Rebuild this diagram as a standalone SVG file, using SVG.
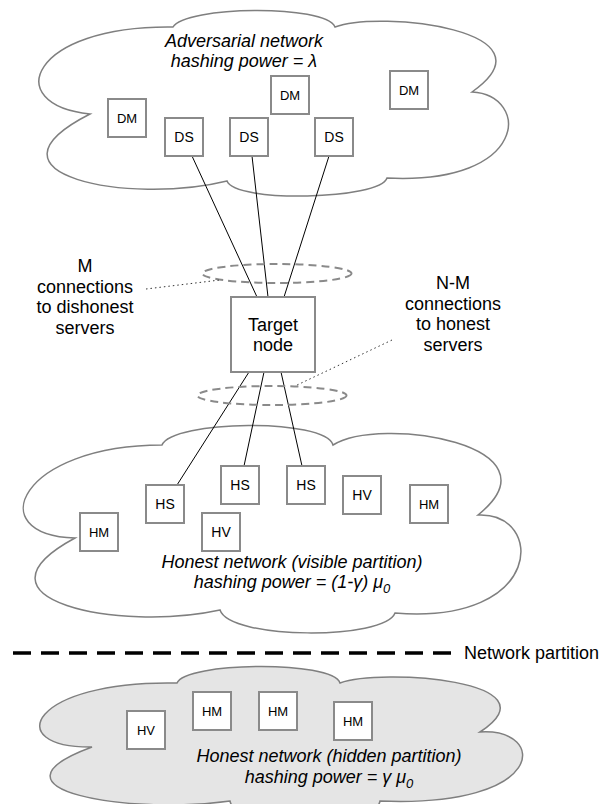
<svg xmlns="http://www.w3.org/2000/svg" width="607" height="804" viewBox="0 0 607 804">
  <style>
    .cloud { fill: #ffffff; stroke: #7f7f7f; stroke-width: 1.5; }
    .cloud.hidden { fill: #e5e5e5; }
    .box { fill: #ffffff; stroke: #8a8a8a; stroke-width: 2; }
    .lbl { font-family: "Liberation Sans", Arial, Helvetica, sans-serif; fill: #000; text-anchor: middle; }
    .s14 { font-size: 14px; }
    .s13 { font-size: 13px; }
    .big { font-family: "Liberation Sans", Arial, Helvetica, sans-serif; font-size: 18px; fill: #000; text-anchor: middle; }
    .it { font-style: italic; }
    .conn { stroke: #000; stroke-width: 1; fill: none; }
    .dot { stroke: #333; stroke-width: 1; stroke-dasharray: 1.5 3; fill: none; }
    .ring { fill: none; stroke: #8a8a8a; stroke-width: 2; stroke-dasharray: 8 5; }
  </style>

  <!-- Clouds -->
  <g id="adversarial-network">
    <path class="cloud" d="M90,114 C0,105 30,25 173,27 C185,6 325,4 335,27 C380,10 560,30 472,92 C530,95 530,185 387,178 C380,200 235,203 227,181 C130,205 -30,175 90,114 Z"/>
    <text class="big it" x="244" y="47">Adversarial network</text>
    <text class="big it" x="244" y="67">hashing power = λ</text>
  </g>

  <g id="honest-visible">
    <path class="cloud" d="M75,538 C-20,535 20,445 162,445 C172,420 325,418 333,445 C380,415 565,445 478,515 C545,512 545,625 395,613 C385,640 230,640 220,610 C120,632 -40,600 75,538 Z"/>
    <text class="big it" x="292" y="568">Honest network (visible partition)</text>
    <text class="big it" x="292" y="588">hashing power = (1-γ) μ<tspan font-size="13" dy="5">0</tspan></text>
  </g>

  <g id="honest-hidden">
    <path class="cloud hidden" d="M92,747 C0,748 30,680 177,683 C185,662 332,660 340,683 C380,668 560,680 480,732 C548,728 548,808 380,801 C375,830 235,830 230,801 C130,815 -25,790 92,747 Z"/>
    <text class="big it" x="329" y="762">Honest network (hidden partition)</text>
    <text class="big it" x="329" y="783">hashing power = γ μ<tspan font-size="13" dy="5">0</tspan></text>
  </g>

  <!-- Partition line -->
  <g id="network-partition">
    <line x1="13" y1="653" x2="451" y2="653" stroke="#000" stroke-width="3.5" stroke-dasharray="18 10"/>
    <text class="big" x="464" y="659" style="text-anchor:start">Network partition</text>
  </g>

  <!-- Connectors -->
  <g id="connectors">
    <line class="conn" x1="192" y1="156" x2="257" y2="297"/>
    <line class="conn" x1="252" y1="156" x2="268" y2="297"/>
    <line class="conn" x1="329" y1="156" x2="284" y2="297"/>
    <line class="conn" x1="249" y1="372" x2="177" y2="485"/>
    <line class="conn" x1="264" y1="372" x2="244" y2="466"/>
    <line class="conn" x1="281" y1="372" x2="302" y2="466"/>
    <ellipse class="ring" cx="277" cy="273.5" rx="74.5" ry="9.5"/>
    <ellipse class="ring" cx="272" cy="395.5" rx="74.5" ry="9.5"/>
    <line class="dot" x1="146" y1="289" x2="220" y2="280"/>
    <line class="dot" x1="392" y1="340" x2="295" y2="386"/>
  </g>

  <!-- Connection labels -->
  <g id="label-m">
    <text class="big" x="85" y="272">M</text>
    <text class="big" x="85" y="292.5">connections</text>
    <text class="big" x="85" y="313">to dishonest</text>
    <text class="big" x="85" y="333.5">servers</text>
  </g>
  <g id="label-nm">
    <text class="big" x="453" y="289">N-M</text>
    <text class="big" x="453" y="309.5">connections</text>
    <text class="big" x="453" y="330">to honest</text>
    <text class="big" x="453" y="350.5">servers</text>
  </g>

  <!-- Target node -->
  <g id="target-node">
    <rect class="box" x="231" y="297" width="84" height="75"/>
    <text class="big" x="273" y="331">Target</text>
    <text class="big" x="273" y="351">node</text>
  </g>

  <!-- Adversarial nodes -->
  <g id="dm1"><rect class="box" x="108" y="99" width="38" height="38"/><text class="lbl s13" x="127" y="122.5">DM</text></g>
  <g id="ds1"><rect class="box" x="165" y="118" width="38" height="38"/><text class="lbl s14" x="184" y="142">DS</text></g>
  <g id="ds2"><rect class="box" x="230" y="118" width="38" height="38"/><text class="lbl s14" x="249" y="142">DS</text></g>
  <g id="dm2"><rect class="box" x="271" y="76" width="38" height="38"/><text class="lbl s13" x="290" y="99.5">DM</text></g>
  <g id="ds3"><rect class="box" x="315" y="118" width="38" height="38"/><text class="lbl s14" x="334" y="142">DS</text></g>
  <g id="dm3"><rect class="box" x="390" y="71" width="38" height="38"/><text class="lbl s13" x="409" y="94.5">DM</text></g>

  <!-- Honest visible nodes -->
  <g id="hm-v1"><rect class="box" x="80" y="513" width="38" height="38"/><text class="lbl s13" x="99" y="536.5">HM</text></g>
  <g id="hs1"><rect class="box" x="146" y="485" width="38" height="38"/><text class="lbl s14" x="165" y="509">HS</text></g>
  <g id="hv-v2"><rect class="box" x="202" y="513" width="38" height="38"/><text class="lbl s14" x="221" y="537">HV</text></g>
  <g id="hs2"><rect class="box" x="221" y="466" width="38" height="38"/><text class="lbl s14" x="240" y="490">HS</text></g>
  <g id="hs3"><rect class="box" x="287" y="466" width="38" height="38"/><text class="lbl s14" x="306" y="490">HS</text></g>
  <g id="hv-v1"><rect class="box" x="343" y="476" width="38" height="38"/><text class="lbl s14" x="362" y="500">HV</text></g>
  <g id="hm-v2"><rect class="box" x="410" y="485" width="38" height="38"/><text class="lbl s13" x="429" y="508.5">HM</text></g>

  <!-- Honest hidden nodes -->
  <g id="hv-h"><rect class="box" x="127" y="711" width="38" height="38"/><text class="lbl s13" x="146" y="734.5">HV</text></g>
  <g id="hm-h1"><rect class="box" x="193" y="692" width="38" height="38"/><text class="lbl s13" x="212" y="715.5">HM</text></g>
  <g id="hm-h2"><rect class="box" x="259" y="692" width="38" height="38"/><text class="lbl s13" x="278" y="715.5">HM</text></g>
  <g id="hm-h3"><rect class="box" x="334" y="702" width="38" height="38"/><text class="lbl s13" x="353" y="725.5">HM</text></g>
</svg>
